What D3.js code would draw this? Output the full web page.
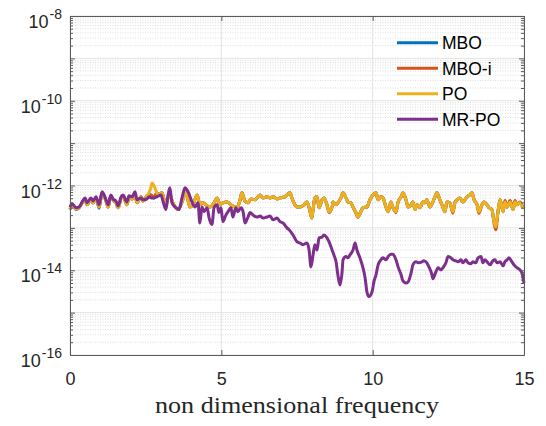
<!DOCTYPE html>
<html>
<head>
<meta charset="utf-8">
<script src="https://d3js.org/d3.v7.min.js"></script>
<style>
  body { margin: 0; background: #fff; }
  svg { display: block; }
</style>
</head>
<body>
<script>
// MR-PO curve
var mrFreq = [
  0,0.07,0.2,0.3,0.4,0.5,0.56,0.69,0.76,0.86,
  0.96,1.06,1.19,1.26,1.35,1.42,1.52,1.59,1.69,1.75,
  1.88,1.95,2.05,2.15,2.21,2.35,2.41,2.54,2.61,2.68,
  2.78,2.87,3.01,3.07,3.17,3.24,3.3,3.37,3.5,3.6,
  3.7,3.8,3.9,4.03,4.13,4.23,4.29,4.36,4.43,4.53,
  4.59,4.69,4.76,4.86,4.92,4.99,5.05,5.15,5.22,5.32,
  5.38,5.48,5.55,5.65,5.72,5.78,5.88,5.95,6.05,6.18,
  6.28,6.38,6.51,6.61,6.71,6.84,6.94,7.04,7.17,7.27,
  7.37,7.5,7.6,7.7,7.83,7.9,7.96,8.03,8.09,8.16,
  8.23,8.33,8.39,8.49,8.56,8.66,8.72,8.79,8.85,8.92,
  8.99,9.02,9.12,9.18,9.25,9.35,9.42,9.48,9.58,9.68,
  9.75,9.81,9.88,9.98,10.04,10.11,10.18,10.27,10.34,10.44,
  10.51,10.6,10.67,10.77,10.84,10.94,11.0,11.1,11.17,11.27,
  11.33,11.43,11.53,11.63,11.69,11.79,11.86,11.96,11.99,12.09,
  12.16,12.26,12.32,12.42,12.49,12.59,12.65,12.75,12.82,12.92,
  12.98,13.08,13.15,13.25,13.31,13.41,13.48,13.58,13.64,13.71,
  13.78,13.88,13.97,14.04,14.11,14.21,14.31,14.37,14.44,14.5,
  14.6,14.67,14.77,14.83,14.93,15.0
];
var mrValues = [
  3.1e-13,3.7e-13,3.0e-13,3.1e-13,4.1e-13,5.1e-13,3.9e-13,5.1e-13,4.3e-13,5.4e-13,
  3.5e-13,7.1e-13,4.6e-13,3.5e-13,6.0e-13,4.8e-13,4.3e-13,3.3e-13,5.4e-13,6.0e-13,
  4.1e-13,5.7e-13,5.4e-13,7.1e-13,4.6e-13,5.1e-13,4.6e-13,4.8e-13,5.4e-13,5.1e-13,
  5.1e-13,5.4e-13,6.0e-13,4.3e-13,2.7e-13,6.0e-13,8.8e-13,3.9e-13,3.0e-13,2.7e-13,
  5.1e-13,8.8e-13,7.1e-13,4.1e-13,3.1e-13,3.9e-13,1.3e-13,3.1e-13,2.4e-13,3.0e-13,
  1.8e-13,1.2e-13,3.0e-13,3.5e-13,2.3e-13,3.0e-13,1.4e-13,2.0e-13,2.4e-13,3.0e-13,
  1.8e-13,3.0e-13,2.4e-13,3.0e-13,2.4e-13,1.3e-13,1.8e-13,2.3e-13,2.0e-13,1.8e-13,
  1.9e-13,1.7e-13,1.8e-13,1.9e-13,1.55e-13,1.7e-13,1.4e-13,1.3e-13,1.0e-13,8.5e-14,
  6.8e-14,4.7e-14,4.4e-14,4.0e-14,4.4e-14,3.0e-14,1.2e-14,2.3e-14,4.0e-14,3.0e-14,
  5.8e-14,6.1e-14,6.8e-14,5.8e-14,4.7e-14,3.0e-14,2.3e-14,1.58e-14,7.8e-15,4.5e-15,
  9.2e-15,1.76e-14,2.1e-14,1.96e-14,2.3e-14,3.0e-14,4.4e-14,3.0e-14,1.96e-14,1.14e-14,
  6.6e-15,3.1e-15,2.4e-15,3.1e-15,5.3e-15,7.8e-15,1.34e-14,1.76e-14,1.96e-14,1.76e-14,
  2.1e-14,2.4e-14,2.4e-14,1.76e-14,1.2e-14,7.8e-15,5.6e-15,5.0e-15,5.3e-15,8.7e-15,
  1.34e-14,1.58e-14,1.5e-14,1.58e-14,1.67e-14,1.5e-14,1.2e-14,7.8e-15,6.3e-15,9.2e-15,
  1.14e-14,1.02e-14,1.14e-14,1.5e-14,2.1e-14,1.96e-14,1.76e-14,1.67e-14,1.58e-14,1.76e-14,
  1.5e-14,1.76e-14,1.5e-14,1.42e-14,1.58e-14,1.5e-14,1.96e-14,2.1e-14,1.5e-14,1.76e-14,
  1.58e-14,1.34e-14,1.67e-14,1.76e-14,1.5e-14,1.58e-14,1.27e-14,1.58e-14,1.76e-14,1.96e-14,
  1.58e-14,1.34e-14,1.14e-14,1.08e-14,8.7e-15,5.0e-15
];

// MBO, MBO-i and PO share the same frequencies
var poFreq = [
  0,0.07,0.2,0.3,0.4,0.5,0.56,0.69,0.76,0.86,
  0.96,1.06,1.19,1.26,1.35,1.42,1.52,1.59,1.69,1.75,
  1.88,1.95,2.05,2.15,2.21,2.35,2.41,2.54,2.61,2.68,
  2.71,2.78,2.87,2.94,3.04,3.11,3.17,3.24,3.3,3.4,
  3.57,3.73,3.83,3.96,4.06,4.2,4.29,4.39,4.53,4.63,
  4.76,4.86,4.96,5.05,5.19,5.32,5.45,5.52,5.62,5.68,
  5.78,5.88,5.98,6.11,6.21,6.28,6.38,6.51,6.61,6.71,
  6.84,6.94,7.1,7.2,7.27,7.33,7.43,7.5,7.6,7.73,
  7.83,7.9,7.99,8.03,8.09,8.16,8.23,8.33,8.39,8.49,
  8.56,8.66,8.69,8.79,8.85,8.95,9.02,9.12,9.18,9.28,
  9.35,9.45,9.51,9.61,9.68,9.81,9.91,10.01,10.11,10.18,
  10.27,10.34,10.44,10.51,10.6,10.67,10.77,10.84,10.94,11.0,
  11.1,11.17,11.27,11.33,11.4,11.46,11.56,11.66,11.73,11.79,
  11.89,11.99,12.06,12.12,12.22,12.32,12.39,12.45,12.55,12.65,
  12.72,12.79,12.88,12.98,13.05,13.12,13.21,13.28,13.35,13.45,
  13.51,13.61,13.68,13.78,13.84,13.94,14.01,14.07,14.14,14.21,
  14.31,14.37,14.44,14.54,14.64,14.7,14.77,14.87,14.97,15.0
];
var poValues = [
  2.8e-13,3.5e-13,2.8e-13,3.0e-13,3.9e-13,4.8e-13,3.5e-13,4.8e-13,3.9e-13,5.1e-13,
  3.1e-13,6.7e-13,4.3e-13,3.1e-13,5.7e-13,4.6e-13,3.9e-13,3.0e-13,5.1e-13,5.7e-13,
  3.5e-13,5.4e-13,4.8e-13,6.3e-13,3.9e-13,5.4e-13,4.3e-13,5.7e-13,6.7e-13,9.3e-13,
  1.15e-12,9.8e-13,6.7e-13,6.0e-13,6.7e-13,4.6e-13,3.5e-13,5.1e-13,5.7e-13,3.9e-13,
  2.7e-13,4.6e-13,7.1e-13,3.1e-13,3.5e-13,6.0e-13,3.5e-13,3.9e-13,3.3e-13,3.1e-13,
  3.9e-13,5.1e-13,3.5e-13,3.9e-13,4.1e-13,3.5e-13,3.1e-13,3.0e-13,4.6e-13,6.7e-13,
  4.3e-13,3.9e-13,4.8e-13,4.6e-13,5.4e-13,6.0e-13,5.1e-13,5.4e-13,5.1e-13,5.4e-13,
  4.8e-13,5.1e-13,5.4e-13,6.3e-13,6.7e-13,5.1e-13,3.5e-13,3.1e-13,3.1e-13,3.5e-13,
  4.1e-13,3.0e-13,1.7e-13,2.7e-13,5.1e-13,5.4e-13,3.0e-13,4.6e-13,5.1e-13,3.5e-13,
  2.4e-13,3.1e-13,4.1e-13,3.5e-13,3.9e-13,5.1e-13,6.7e-13,5.1e-13,4.1e-13,3.9e-13,
  3.1e-13,2.3e-13,1.8e-13,2.4e-13,3.0e-13,3.1e-13,4.6e-13,6.0e-13,6.7e-13,4.6e-13,
  5.4e-13,5.1e-13,3.1e-13,2.4e-13,4.1e-13,3.0e-13,2.4e-13,4.1e-13,5.4e-13,6.7e-13,
  4.6e-13,3.1e-13,3.5e-13,4.1e-13,2.7e-13,3.5e-13,3.0e-13,4.1e-13,3.9e-13,4.6e-13,
  3.1e-13,4.1e-13,5.4e-13,6.7e-13,4.6e-13,3.1e-13,2.4e-13,4.1e-13,3.9e-13,2.4e-13,
  3.9e-13,4.6e-13,5.1e-13,4.1e-13,4.6e-13,5.4e-13,6.0e-13,6.7e-13,4.6e-13,3.5e-13,
  2.4e-13,3.5e-13,4.1e-13,3.5e-13,3.0e-13,2.7e-13,1.4e-13,1.06e-13,2.4e-13,4.6e-13,
  2.4e-13,4.1e-13,3.1e-13,4.1e-13,2.7e-13,4.1e-13,3.5e-13,3.9e-13,3.0e-13,3.1e-13
];
var mboiValues = [
  2.8e-13,3.5e-13,2.8e-13,3.0e-13,3.9e-13,4.8e-13,3.5e-13,4.8e-13,3.9e-13,5.1e-13,
  3.1e-13,6.7e-13,4.3e-13,3.1e-13,5.7e-13,4.6e-13,3.9e-13,3.0e-13,5.1e-13,5.7e-13,
  3.5e-13,5.4e-13,4.8e-13,6.3e-13,3.9e-13,5.4e-13,4.3e-13,5.7e-13,6.0e-13,6.0e-13,
  5.7e-13,5.4e-13,6.7e-13,6.0e-13,6.7e-13,4.6e-13,3.5e-13,5.1e-13,5.7e-13,3.9e-13,
  2.7e-13,4.6e-13,7.1e-13,3.1e-13,3.5e-13,6.0e-13,3.5e-13,3.9e-13,3.3e-13,3.1e-13,
  3.9e-13,5.1e-13,3.5e-13,3.9e-13,4.1e-13,3.5e-13,3.1e-13,3.0e-13,4.6e-13,6.7e-13,
  4.3e-13,3.9e-13,4.8e-13,4.6e-13,5.4e-13,6.0e-13,5.1e-13,5.4e-13,5.1e-13,5.4e-13,
  4.8e-13,5.1e-13,5.4e-13,6.3e-13,6.7e-13,5.1e-13,3.5e-13,3.1e-13,3.1e-13,3.5e-13,
  4.1e-13,3.0e-13,1.7e-13,2.7e-13,5.1e-13,5.4e-13,3.0e-13,4.6e-13,5.1e-13,3.5e-13,
  2.3e-13,3.1e-13,4.1e-13,3.5e-13,3.9e-13,5.1e-13,6.7e-13,5.1e-13,4.1e-13,3.9e-13,
  3.1e-13,2.2e-13,1.8e-13,2.4e-13,3.0e-13,3.1e-13,4.6e-13,6.0e-13,6.7e-13,4.6e-13,
  5.4e-13,5.1e-13,3.1e-13,2.4e-13,4.1e-13,3.0e-13,2.3e-13,4.1e-13,5.4e-13,6.7e-13,
  4.6e-13,3.1e-13,3.5e-13,4.1e-13,2.7e-13,3.5e-13,3.0e-13,4.1e-13,3.9e-13,4.6e-13,
  3.1e-13,4.1e-13,5.4e-13,6.7e-13,4.6e-13,3.1e-13,2.4e-13,4.1e-13,3.9e-13,2.2e-13,
  3.9e-13,4.6e-13,5.1e-13,4.1e-13,4.6e-13,5.4e-13,6.0e-13,6.7e-13,4.6e-13,3.5e-13,
  2.2e-13,3.5e-13,4.1e-13,3.5e-13,3.0e-13,2.7e-13,1.3e-13,9.0e-14,2.4e-13,4.6e-13,
  2.4e-13,4.4e-13,3.1e-13,4.4e-13,2.7e-13,4.4e-13,3.5e-13,4.1e-13,3.0e-13,3.2e-13
];
var mboValues = [
  2.7e-13,3.5e-13,2.7e-13,3.0e-13,3.9e-13,4.8e-13,3.5e-13,4.8e-13,3.9e-13,5.1e-13,
  2.9e-13,6.7e-13,4.3e-13,3.1e-13,5.7e-13,4.6e-13,3.9e-13,3.0e-13,5.1e-13,5.7e-13,
  3.5e-13,5.4e-13,4.8e-13,6.3e-13,3.9e-13,5.4e-13,4.3e-13,5.7e-13,6.0e-13,6.0e-13,
  5.4e-13,5.1e-13,6.7e-13,6.0e-13,6.7e-13,4.6e-13,3.5e-13,5.1e-13,5.7e-13,3.9e-13,
  2.7e-13,4.6e-13,7.1e-13,3.1e-13,3.5e-13,6.0e-13,3.5e-13,3.9e-13,3.3e-13,3.1e-13,
  3.9e-13,5.1e-13,3.5e-13,3.9e-13,4.1e-13,3.5e-13,3.1e-13,3.0e-13,4.6e-13,6.7e-13,
  4.3e-13,3.9e-13,4.8e-13,4.6e-13,5.4e-13,6.0e-13,5.1e-13,5.4e-13,5.1e-13,5.4e-13,
  4.8e-13,5.1e-13,5.4e-13,6.3e-13,6.7e-13,5.1e-13,3.5e-13,3.1e-13,3.1e-13,3.5e-13,
  4.1e-13,3.0e-13,1.7e-13,2.7e-13,5.1e-13,5.4e-13,3.0e-13,4.6e-13,5.1e-13,3.5e-13,
  2.4e-13,3.1e-13,4.1e-13,3.5e-13,3.9e-13,5.1e-13,6.7e-13,5.1e-13,4.1e-13,3.9e-13,
  3.1e-13,2.3e-13,1.8e-13,2.4e-13,3.0e-13,3.1e-13,4.6e-13,6.0e-13,6.7e-13,4.6e-13,
  5.4e-13,5.1e-13,3.1e-13,2.4e-13,4.1e-13,3.0e-13,2.4e-13,4.1e-13,5.4e-13,6.7e-13,
  4.6e-13,3.1e-13,3.5e-13,4.1e-13,2.7e-13,3.5e-13,3.0e-13,4.1e-13,3.9e-13,4.6e-13,
  3.1e-13,4.1e-13,5.4e-13,6.7e-13,4.6e-13,3.1e-13,2.4e-13,4.1e-13,3.9e-13,2.4e-13,
  4.1e-13,4.6e-13,5.1e-13,4.1e-13,4.6e-13,5.4e-13,6.0e-13,6.7e-13,4.6e-13,3.5e-13,
  2.4e-13,3.5e-13,4.1e-13,3.5e-13,3.0e-13,2.7e-13,1.4e-13,1.06e-13,2.4e-13,4.6e-13,
  2.4e-13,4.3e-13,3.1e-13,4.3e-13,2.7e-13,4.3e-13,3.5e-13,4.0e-13,3.2e-13,3.3e-13
];

var seriesNames = ["MBO", "MBO-i", "PO", "MR-PO"];
var seriesColors = ["#0072BD", "#D95319", "#EDB120", "#7E2F8E"];
var xTicks = [0, 5, 10, 15];
var yLabelExps = [-16, -14, -12, -10, -8];
var decadeExps = [-16, -15, -14, -13, -12, -11, -10, -9, -8];
var minorMult = [2, 3, 4, 5, 6, 7, 8, 9];
var xLabel = "non dimensional frequency";

var w = 546, h = 426;
var mLeft = 70, mRight = 524, mTop = 16, mBottom = 355;

var svg = d3.select("body").append("svg")
    .attr("width", w)
    .attr("height", h);

var x = d3.scaleLinear().domain([0, 15]).range([mLeft, mRight]);
var y = d3.scaleLog().domain([1e-16, 1e-8]).range([mBottom, mTop]);

var decades = decadeExps.map(function(e){ return Math.pow(10, e); });
var minors = [];
decadeExps.slice(0, -1).forEach(function(e){
  minorMult.forEach(function(m){ minors.push(m * Math.pow(10, e)); });
});

// grid
svg.append("g").selectAll("line")
  .data(minors).enter().append("line")
  .attr("x1", mLeft).attr("x2", mRight)
  .attr("y1", function(d){ return y(d); })
  .attr("y2", function(d){ return y(d); })
  .style("stroke", "#d4d4d4")
  .style("stroke-width", 0.8)
  .style("stroke-dasharray", "1,1.5");

svg.append("g").selectAll("line")
  .data(decades).enter().append("line")
  .attr("x1", mLeft).attr("x2", mRight)
  .attr("y1", function(d){ return y(d); })
  .attr("y2", function(d){ return y(d); })
  .style("stroke", "#e3e3e3")
  .style("stroke-width", 1);

svg.append("g").selectAll("line")
  .data(xTicks).enter().append("line")
  .attr("x1", function(d){ return x(d); })
  .attr("x2", function(d){ return x(d); })
  .attr("y1", mTop).attr("y2", mBottom)
  .style("stroke", "#e3e3e3")
  .style("stroke-width", 1);

// curves
var allValues = [mboValues, mboiValues, poValues, mrValues];
var allFreqs = [poFreq, poFreq, poFreq, mrFreq];

var line = d3.line()
  .x(function(d){ return x(d[0]); })
  .y(function(d){ return y(d[1]); })
  .curve(d3.curveMonotoneX);

allValues.forEach(function(vals, i){
  svg.append("path")
    .datum(d3.zip(allFreqs[i], vals))
    .attr("d", line)
    .style("fill", "none")
    .style("stroke", seriesColors[i])
    .style("stroke-width", 3)
    .style("stroke-linejoin", "round");
});

// axes (box with inward ticks)
function styleAxis(g){
  g.selectAll("path, line").style("stroke", "#5a5a5a").style("stroke-width", 1);
}

svg.append("g").attr("transform", "translate(0," + mBottom + ")")
  .call(d3.axisBottom(x).tickValues(xTicks).tickSizeInner(-5).tickSizeOuter(0).tickPadding(17))
  .call(styleAxis)
  .call(function(g){
    g.selectAll("text")
      .style("font-family", "Liberation Sans, Arial, sans-serif")
      .style("font-size", "18px")
      .style("fill", "#262626");
  });

svg.append("g").attr("transform", "translate(0," + mTop + ")")
  .call(d3.axisTop(x).tickValues(xTicks).tickSizeInner(-5).tickSizeOuter(0).tickFormat(""))
  .call(styleAxis);

svg.append("g").attr("transform", "translate(" + mLeft + ",0)")
  .call(d3.axisLeft(y).tickValues(decades).tickSizeInner(-5).tickSizeOuter(0).tickFormat(""))
  .call(styleAxis);
svg.append("g").attr("transform", "translate(" + mLeft + ",0)")
  .call(d3.axisLeft(y).tickValues(minors).tickSizeInner(-3).tickSizeOuter(0).tickFormat(""))
  .call(styleAxis);

svg.append("g").attr("transform", "translate(" + mRight + ",0)")
  .call(d3.axisRight(y).tickValues(decades).tickSizeInner(-5).tickSizeOuter(0).tickFormat(""))
  .call(styleAxis);
svg.append("g").attr("transform", "translate(" + mRight + ",0)")
  .call(d3.axisRight(y).tickValues(minors).tickSizeInner(-3).tickSizeOuter(0).tickFormat(""))
  .call(styleAxis);

// y tick labels with superscripts
var yl = svg.append("g").selectAll("text")
  .data(yLabelExps).enter().append("text")
  .attr("x", 62)
  .attr("y", function(d){ return y(Math.pow(10, d)) + 12; })
  .attr("text-anchor", "end")
  .style("font-family", "Liberation Sans, Arial, sans-serif")
  .style("fill", "#262626");
yl.append("tspan").style("font-size", "18px").text("10");
yl.append("tspan").attr("dy", -9).attr("dx", 1).style("font-size", "14px")
  .text(function(d){ return String(d); });

// x axis title
svg.append("text")
  .attr("x", (mLeft + mRight) / 2)
  .attr("y", 413)
  .attr("text-anchor", "middle")
  .attr("textLength", 284)
  .attr("lengthAdjust", "spacingAndGlyphs")
  .style("font-family", "Liberation Serif, Times New Roman, serif")
  .style("font-size", "23px")
  .style("fill", "#262626")
  .text(xLabel);

// legend
var legend = svg.append("g").selectAll("g")
  .data(seriesNames).enter().append("g")
  .attr("transform", function(d, i){ return "translate(0," + (42.7 + i * 25.5) + ")"; });
legend.append("line")
  .attr("x1", 397).attr("x2", 438)
  .style("stroke", function(d, i){ return seriesColors[i]; })
  .style("stroke-width", 3);
legend.append("text")
  .attr("x", 442).attr("y", 6.5)
  .style("font-family", "Liberation Sans, Arial, sans-serif")
  .style("font-size", "17.5px")
  .style("fill", "#000")
  .text(function(d){ return d; });
</script>
</body>
</html>
